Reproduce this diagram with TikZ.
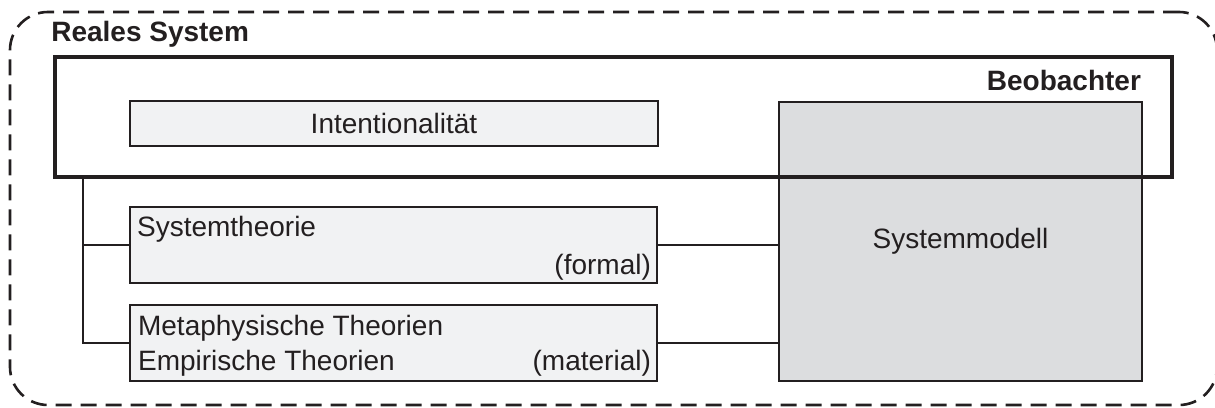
\documentclass[tikz,border=0pt]{standalone}
\usepackage{fontspec}
\setmainfont{Liberation Sans}
\usepackage{tikz}
\usepackage{xcolor}
\definecolor{ink}{HTML}{231F20}
\definecolor{light-fill}{HTML}{F1F2F3}
\definecolor{model-fill}{HTML}{DCDDDF}
\tikzset{
    outer-frame/.style = {draw=ink, line width=2.6pt, dash pattern=on 16pt off 9pt, rectangle, rounded corners=38pt},
    observer-frame/.style = {draw=ink, line width=3.8pt, rectangle, inner sep=0pt},
    light-box/.style = {draw=ink, fill=light-fill, line width=2.2pt, rectangle, inner sep=0pt},
    model-box/.style = {draw=ink, fill=model-fill, line width=2.2pt, rectangle, inner sep=0pt},
    box-text/.style = {text=ink, inner sep=0pt, font=\fontsize{28}{31}\selectfont},
    box-title/.style = {box-text, font=\fontsize{28}{31}\selectfont\bfseries},
    link/.style = {draw=ink, line width=2.2pt},
}

\begin{document}
\begin{tikzpicture}[x=1pt, y=1pt]
\useasboundingbox (0,0) rectangle (1215,407);
\node [outer-frame, minimum width=1207pt, minimum height=393pt] (real-system) at (613.5,198.5) {};
\node [model-box, minimum width=363pt, minimum height=279pt] (model) at (960.5,165.5) {};
\node [box-text] at (model.center) {Systemmodell};
\node [observer-frame, minimum width=1117pt, minimum height=120pt] (observer) at (613.5,290) {};
\node [light-box, minimum width=528pt, minimum height=45pt] (intent) at (394,283.5) {};
\node [box-text] at (intent.center) {Intentionalität};
\node [light-box, minimum width=527pt, minimum height=76pt] (theory) at (393.5,162) {};
\node [light-box, minimum width=527pt, minimum height=76pt] (meta) at (393.5,64) {};

\node [box-title, anchor=base west, xshift=-2pt, yshift=14pt] at (observer.north west) {Reales System};
\node [box-title, anchor=base east, xshift=-2pt, yshift=-35pt] at (model.east |- observer.north) {Beobachter};
\node [box-text, anchor=base west, xshift=8pt, yshift=-31pt] at (theory.north west) {Systemtheorie};
\node [box-text, anchor=base east, xshift=-7pt, yshift=10pt] at (theory.south east) {(formal)};
\node [box-text, anchor=base west, xshift=9pt, yshift=-32pt] at (meta.north west) {Metaphysische Theorien};
\node [box-text, anchor=base west, xshift=9pt, yshift=12pt] at (meta.south west) {Empirische Theorien};
\node [box-text, anchor=base east, xshift=-7pt, yshift=12pt] at (meta.south east) {(material)};

\coordinate [xshift=30pt] (tree-top) at (observer.south west);
\draw [link] (tree-top) |- (meta.west);
\draw [link] (tree-top |- theory.west) -- (theory.west);
\draw [link] (theory.east) -- (theory.east -| model.west);
\draw [link] (meta.east) -- (meta.east -| model.west);
\end{tikzpicture}
\end{document}
